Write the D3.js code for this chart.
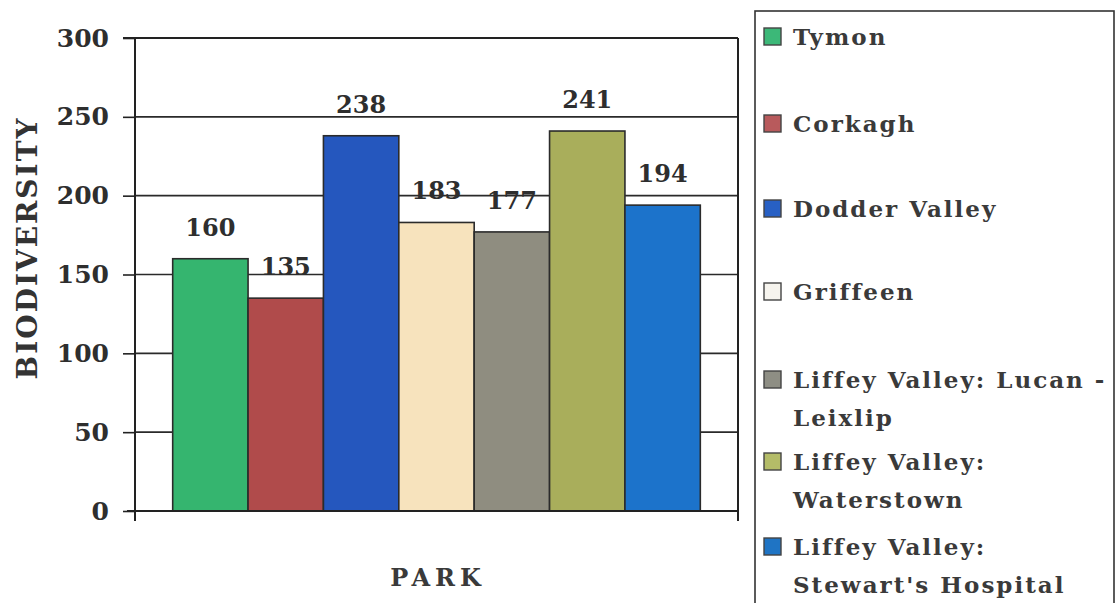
<!DOCTYPE html>
<html>
<head>
<meta charset="utf-8">
<script src="https://cdn.jsdelivr.net/npm/d3@7"></script>
<style>
  body { margin: 0; background: #fff; }
  svg { display: block; }
  text { font-family: "DejaVu Serif", "Liberation Serif", serif; font-weight: bold; }
</style>
</head>
<body>
<div class="visual"></div>
<script>
const parks = ["Tymon", "Corkagh", "Dodder Valley", "Griffeen",
  "Liffey Valley: Lucan - Leixlip", "Liffey Valley: Waterstown", "Liffey Valley: Stewart's Hospital"];
const biodiversity = [160, 135, 238, 183, 177, 241, 194];
const barColors = ["#35b56f", "#b04b4b", "#2557be", "#f7e3bd", "#8f8d80", "#a9ae5b", "#1c73cb"];
const swatchColors = ["#3cb878", "#b85a5c", "#2860c4", "#f6f4ee", "#8e8e84", "#b4bc68", "#1f74c4"];
const legendLines = [["Tymon"], ["Corkagh"], ["Dodder Valley"], ["Griffeen"],
  ["Liffey Valley: Lucan -", "Leixlip"], ["Liffey Valley:", "Waterstown"], ["Liffey Valley:", "Stewart's Hospital"]];
const yTicks = [0, 50, 100, 150, 200, 250, 300];

const width = 1116, height = 603;
const plot = { left: 135, right: 738, top: 38, bottom: 511 };

const svg = d3.select(".visual").append("svg")
  .attr("width", width)
  .attr("height", height);

const x = d3.scaleBand()
  .domain(parks)
  .range([plot.left, plot.right])
  .paddingInner(0)
  .paddingOuter(0.5);

const y = d3.scaleLinear()
  .domain([0, 300])
  .range([plot.bottom, plot.top]);

// gridlines
svg.append("g")
  .selectAll("line")
  .data(yTicks.filter(d => d > 0))
  .enter()
  .append("line")
  .attr("x1", plot.left)
  .attr("x2", plot.right)
  .attr("y1", d => y(d))
  .attr("y2", d => y(d))
  .attr("stroke", "#2a2a2a")
  .attr("stroke-width", 1.6);

// plot frame (right side)
svg.append("line")
  .attr("x1", plot.right).attr("x2", plot.right)
  .attr("y1", plot.top).attr("y2", plot.bottom + 10)
  .attr("stroke", "#222").attr("stroke-width", 2);

// bars
svg.append("g")
  .selectAll("rect")
  .data(biodiversity)
  .enter()
  .append("rect")
  .attr("x", (d, i) => x(parks[i]))
  .attr("y", d => y(d))
  .attr("width", x.bandwidth())
  .attr("height", d => plot.bottom - y(d))
  .attr("fill", (d, i) => barColors[i])
  .attr("stroke", "#2b2b2b")
  .attr("stroke-width", 1.6);

// value labels
svg.append("g")
  .selectAll("text")
  .data(biodiversity)
  .enter()
  .append("text")
  .attr("x", (d, i) => x(parks[i]) + x.bandwidth() / 2)
  .attr("y", d => y(d) - 23)
  .attr("text-anchor", "middle")
  .style("font-size", "24px")
  .style("fill", "#2e2e2e")
  .text(d => d);

// y axis
const yAxis = d3.axisLeft(y)
  .tickValues(yTicks)
  .tickSize(12)
  .tickPadding(14)
  .tickSizeOuter(0);

const yG = svg.append("g")
  .attr("transform", `translate(${plot.left},0)`)
  .call(yAxis);
yG.select(".domain").attr("stroke", "#222").attr("stroke-width", 2)
  .attr("d", `M0,${plot.top}V${plot.bottom + 10}`);
yG.selectAll(".tick line").attr("stroke", "#222").attr("stroke-width", 1.6);
yG.selectAll(".tick text")
  .style("font-family", '"DejaVu Serif", serif')
  .style("font-weight", "bold")
  .style("font-size", "25px")
  .style("fill", "#2e2e2e");

// x axis line
svg.append("line")
  .attr("x1", plot.left - 8).attr("x2", plot.right)
  .attr("y1", plot.bottom).attr("y2", plot.bottom)
  .attr("stroke", "#222").attr("stroke-width", 2);

// top frame
svg.append("line")
  .attr("x1", plot.left - 12).attr("x2", plot.right)
  .attr("y1", plot.top).attr("y2", plot.top)
  .attr("stroke", "#222").attr("stroke-width", 2);

// axis titles
svg.append("text")
  .attr("transform", `translate(37,248) rotate(-90)`)
  .attr("text-anchor", "middle")
  .style("font-size", "28px")
  .style("letter-spacing", "2px")
  .style("fill", "#333")
  .text("BIODIVERSITY");

svg.append("text")
  .attr("x", 438)
  .attr("y", 586)
  .attr("text-anchor", "middle")
  .style("font-size", "24px")
  .style("letter-spacing", "5px")
  .style("fill", "#3a3a3a")
  .text("PARK");

// legend
const legend = svg.append("g");
legend.append("rect")
  .attr("x", 755).attr("y", 11)
  .attr("width", 359).attr("height", 620)
  .attr("fill", "none")
  .attr("stroke", "#333")
  .attr("stroke-width", 1.6);

const legendY = [45, 132, 217, 300, 388, 470, 555];
const item = legend.selectAll("g.item")
  .data(legendLines)
  .enter()
  .append("g")
  .attr("class", "item")
  .attr("transform", (d, i) => `translate(0,${legendY[i]})`);

item.append("rect")
  .attr("x", 764).attr("y", -17)
  .attr("width", 17).attr("height", 17)
  .attr("fill", (d, i) => swatchColors[i])
  .attr("stroke", "#444")
  .attr("stroke-width", 1.4);

item.each(function(lines) {
  const g = d3.select(this);
  lines.forEach((ln, j) => {
    g.append("text")
      .attr("x", 793)
      .attr("y", j * 38)
      .style("font-size", "23px")
      .style("letter-spacing", "2px")
      .style("fill", "#3a3a3a")
      .text(ln);
  });
});
</script>
</body>
</html>
